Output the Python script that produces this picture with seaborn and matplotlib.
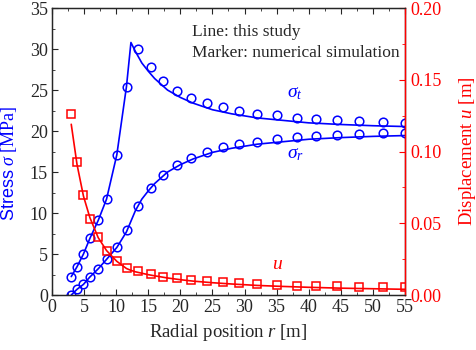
import numpy as np
import pandas as pd
import matplotlib
matplotlib.use("Agg")
import matplotlib.pyplot as plt
import seaborn as sns
from matplotlib.ticker import MultipleLocator, FormatStrFormatter

# Marker data: numerical simulation
r_sim = [3.0, 3.9, 4.9, 5.9, 7.2, 8.5, 10.1, 11.7, 13.4, 15.4, 17.3, 19.5,
         21.7, 24.1, 26.6, 29.2, 32.0, 35.0, 38.1, 41.2, 44.4, 47.8, 51.5, 55.0]
sig_t_sim = [2.25, 3.45, 5.0, 6.9, 9.1, 11.7, 17.1, 25.4, 30.0, 27.8, 26.1, 24.9,
             24.0, 23.4, 22.9, 22.4, 22.1, 21.9, 21.6, 21.5, 21.35, 21.25, 21.1, 21.0]
sig_r_sim = [0.0, 0.7, 1.3, 2.2, 3.2, 4.35, 5.8, 7.9, 10.8, 13.0, 14.6, 15.85,
             16.7, 17.4, 18.05, 18.4, 18.7, 19.05, 19.3, 19.4, 19.5, 19.7, 19.8, 19.8]
u_sim = [0.126, 0.0925, 0.0697, 0.0527, 0.0404, 0.0307, 0.0239, 0.019, 0.0169,
         0.0146, 0.0128, 0.0116, 0.0107, 0.0098, 0.009, 0.0086, 0.0077, 0.007,
         0.0065, 0.0063, 0.006, 0.0058, 0.0056, 0.0054]

# Line data: this study
r_line = [3.0, 3.9, 4.9, 5.9, 7.2, 8.5, 10.1, 11.6, 12.3, 13.0, 14.0, 15.0, 16.0,
          18.0, 20.0, 22.0, 25.0, 28.0, 32.0, 36.0, 40.0, 45.0, 50.0, 55.0]
sig_t_line = [2.25, 3.45, 5.0, 6.9, 9.1, 11.7, 17.1, 25.4, 30.8, 29.7, 28.3, 27.3,
              26.4, 25.0, 24.1, 23.4, 22.6, 22.1, 21.6, 21.3, 21.0, 20.8, 20.65, 20.55]
sig_r_line = [0.0, 0.7, 1.3, 2.2, 3.2, 4.35, 5.8, 7.7, 9.0, 10.3, 11.7, 12.7, 13.6,
              15.0, 15.9, 16.6, 17.4, 17.9, 18.4, 18.7, 19.0, 19.2, 19.35, 19.45]
u_line = [0.119, 0.091, 0.069, 0.054, 0.040, 0.031, 0.0235, 0.0185, 0.0172, 0.0162,
          0.0152, 0.0142, 0.0134, 0.0119, 0.0107, 0.0097, 0.0086, 0.0077, 0.0067,
          0.006, 0.0054, 0.0048, 0.0044, 0.004]

blue = "#0000ff"
red = "#ff0000"

sns.set_style("ticks")
plt.rcParams["font.family"] = ["Liberation Serif", "DejaVu Serif"]
plt.rcParams["mathtext.fontset"] = "custom"
plt.rcParams["mathtext.rm"] = "Liberation Serif"
plt.rcParams["mathtext.it"] = "Liberation Serif:italic"
plt.rcParams["mathtext.sf"] = "Liberation Sans"
plt.rcParams["font.size"] = 13

lines = pd.DataFrame({"r": r_line, "st": sig_t_line, "sr": sig_r_line, "u": u_line})
sims = pd.DataFrame({"r": r_sim, "st": sig_t_sim, "sr": sig_r_sim, "u": u_sim})

fig = plt.figure(figsize=(4.77, 3.5), dpi=100)
ax = fig.add_axes([0.109, 0.157, 0.740, 0.820])

sns.lineplot(data=lines, x="r", y="st", ax=ax, color=blue, lw=1.2)
sns.lineplot(data=lines, x="r", y="sr", ax=ax, color=blue, lw=1.2)
for col in ["st", "sr"]:
    ax.plot(sims["r"], sims[col], ls="none", marker="o", ms=6.2, mfc="none",
            mec=blue, mew=1.1)

ax.set_xlim(0, 55)
ax.set_ylim(0, 35)
ax.xaxis.set_major_locator(MultipleLocator(5))
ax.xaxis.set_minor_locator(MultipleLocator(2.5))
ax.yaxis.set_major_locator(MultipleLocator(5))
ax.yaxis.set_minor_locator(MultipleLocator(2.5))
ax.tick_params(which="both", direction="in", top=True, right=False, labelsize=13, pad=3)
ax.tick_params(which="major", length=4)
ax.tick_params(which="minor", length=2.5)
ax.set_xlabel("Radial position $r$ [m]", fontsize=13.5)
ax.set_ylabel(r"$\mathsf{Stress}$ $\sigma$ [MPa]", fontsize=13, color=blue)
ax.yaxis.set_label_coords(-0.093, 0.46)
for s in ax.spines.values():
    s.set_linewidth(1.0)

ax2 = ax.twinx()
sns.lineplot(data=lines, x="r", y="u", ax=ax2, color=red, lw=1.2)
ax2.plot(sims["r"], sims["u"], ls="none", marker="s", ms=5.8, mfc="none",
         mec=red, mew=1.1)
ax2.set_ylim(0, 0.2)
ax2.yaxis.set_major_locator(MultipleLocator(0.05))
ax2.yaxis.set_minor_locator(MultipleLocator(0.025))
ax2.yaxis.set_major_formatter(FormatStrFormatter("%.2f"))
ax2.tick_params(which="both", direction="in", colors=red, labelsize=13, pad=4)
ax2.tick_params(which="major", length=4)
ax2.tick_params(which="minor", length=2.5)
ax2.spines["right"].set_color(red)
ax2.spines["right"].set_linewidth(1.0)
ax2.set_xlabel("")
ax2.set_ylabel("Displacement $u$ [m]", fontsize=13.5, color=red)
ax2.yaxis.set_label_coords(1.146, 0.5)

ax.text(21.8, 32.1, "Line: this study", fontsize=12.5, va="center")
ax.text(21.8, 29.5, "Marker: numerical simulation", fontsize=12.5, va="center")
ax.text(37.9, 24.6, r"$\sigma_t$", fontsize=14, color=blue, ha="center", va="center")
ax.text(37.9, 17.1, r"$\sigma_r$", fontsize=14, color=blue, ha="center", va="center")
ax.text(35.2, 3.7, "$u$", fontsize=14, color=red, ha="center", va="center")

fig.savefig("out.png", dpi=100)
